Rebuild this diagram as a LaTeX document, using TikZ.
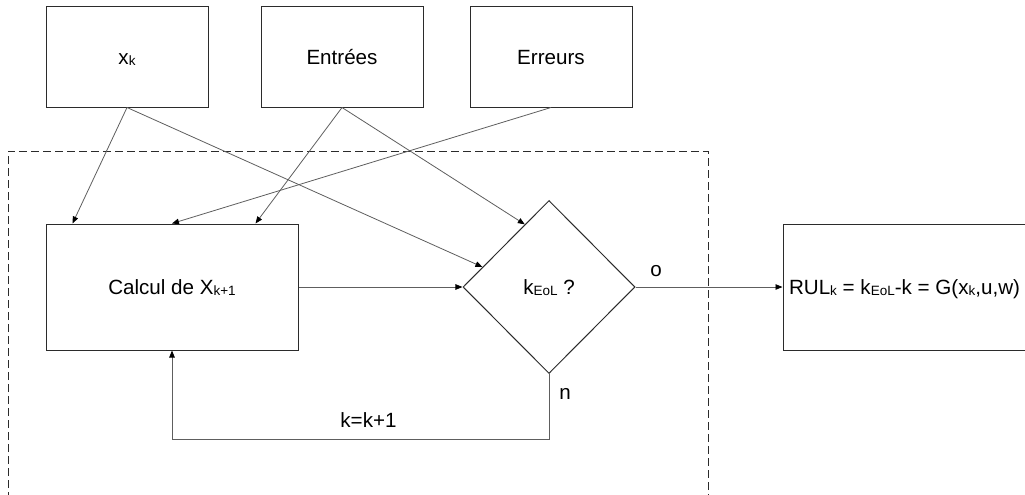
\documentclass[tikz,border=0pt]{standalone}
\usepackage{fontspec}
\setmainfont{Liberation Sans}
\usetikzlibrary{arrows.meta, positioning, shapes.geometric, calc}
\definecolor{cline}{HTML}{5E5E5E}
\definecolor{cframe}{HTML}{2B2B2B}
\newcommand{\lo}[1]{\raisebox{-1pt}{\fontsize{13.5pt}{13.5pt}\selectfont #1}}
\tikzset{
  every picture/.style={x=1pt, y=-1pt, font=\fontsize{20.6pt}{24pt}\selectfont},
  box/.style={draw=cframe, line width=1pt, inner sep=3pt, align=center, text height=14.6pt, text depth=0pt},
  topbox/.style={box, minimum width=162pt, minimum height=100pt},
  decision/.style={draw=cframe, line width=1pt, diamond, inner sep=0pt, minimum width=172pt, minimum height=173pt, text height=14.6pt, text depth=0pt},
  arrow/.style={-{Triangle[length=7pt, width=5.5pt, color=black]}, draw=cline, line width=0.8pt},
  lbl/.style={inner sep=0pt},
  loopframe/.style={draw=cframe, line width=1pt, dash pattern=on 8pt off 4pt},
}

\begin{document}
\begin{tikzpicture}
  \useasboundingbox (0,0) rectangle (1025,495);
  \node[topbox] (xk) at (127,57) {x\lo{k}};
  \node[topbox, right=52pt of xk] (ent) {Entrées};
  \node[topbox, right=46pt of ent] (err) {Erreurs};
  \draw[loopframe] (8,500) |- (708,151) -- (708,500);
  \node[box, minimum width=252pt, minimum height=126pt] (calc) at (172,287) {Calcul de X\lo{k+1}};
  \node[decision] (dec) at (549,287) {k\lo{EoL} ?};
  \node[box, minimum width=243pt, minimum height=126pt] (rul) at (904.5,287) {RUL\lo{k} = k\lo{EoL}-k = G(x\lo{k},u,w)};
  \draw[arrow] (xk.south) -- ([xshift=27pt]calc.north west);
  \draw[arrow] (xk.south) -- ($(dec.west)!0.23!(dec.north)$);
  \draw[arrow] (ent.south) -- ([xshift=-43pt]calc.north east);
  \draw[arrow] (ent.south) -- ($(dec.west)!0.72!(dec.north)$);
  \draw[arrow] (err.south) -- (calc.north);
  \draw[arrow] (calc) -- (dec);
  \draw[arrow] (dec) -- node[lbl, pos=0.14, above=10pt] (yes) {o} (rul);
  \draw[arrow] (dec.south) -- node[lbl, pos=0.31, right=10pt] (no) {n} ++(0,65)
    -| node[lbl, pos=0.25, above=11pt, xshift=8pt] (inc) {k=k+1} (calc.south);
\end{tikzpicture}
\end{document}
